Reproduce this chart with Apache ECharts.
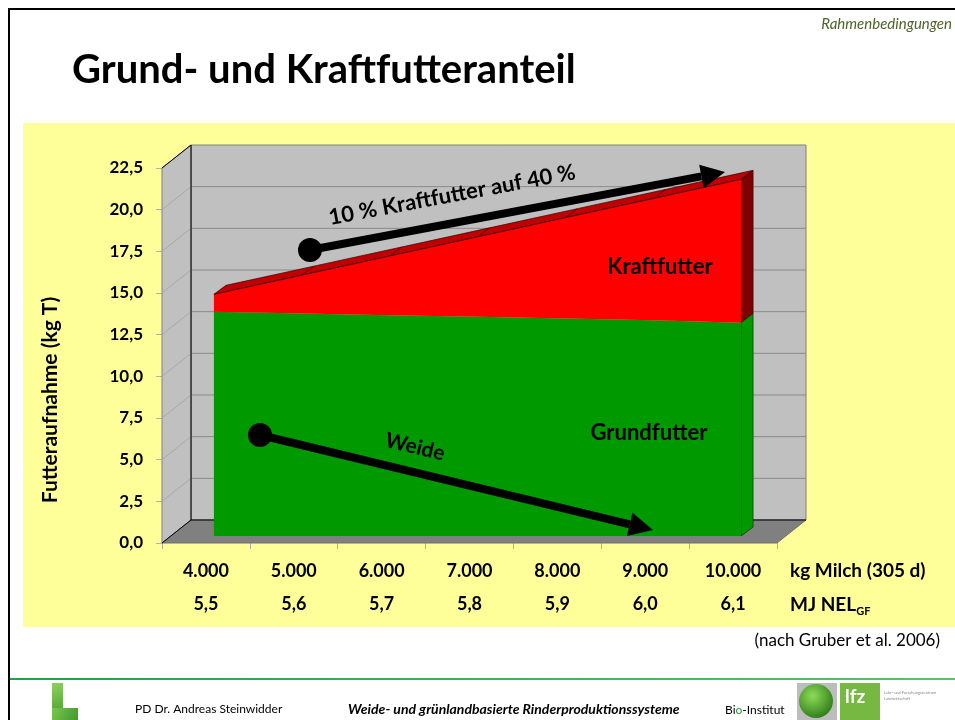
<!DOCTYPE html>
<html>
<head>
<meta charset="utf-8">
<script src="https://cdn.jsdelivr.net/npm/echarts@6/dist/echarts.min.js"></script>
<style>
  html, body { margin: 0; padding: 0; background: #fff; }
  #chart { width: 955px; height: 720px; }
</style>
</head>
<body>
<div id="chart"></div>
<script>
// --- data ---
const milch = ['4.000', '5.000', '6.000', '7.000', '8.000', '9.000', '10.000'];
const nelGF = ['5,5', '5,6', '5,7', '5,8', '5,9', '6,0', '6,1'];
const grundfutter = [13.45, 13.35, 13.25, 13.15, 13.05, 12.95, 12.8];
const kraftfutter = [1.05, 2.3, 3.55, 4.8, 6.05, 7.3, 8.6];
const yMin = 0, yMax = 22.5, yStep = 2.5;

const FONT = 'Lato, "Open Sans", sans-serif';
const WALL_DEPTH = [29, -23];   // pixel offset of the back wall
const AREA_FRONT = [8, -7];     // front face of the area block
const AREA_BACK = [20, -16];    // back face of the area block

const shift = (p, d) => [p[0] + d[0], p[1] + d[1]];

// back wall, side wall, floor and grid lines of the 3D box
function renderWalls(params, api) {
    const D = WALL_DEPTH;
    const bw = api.size([1, 0])[0];
    const c0 = api.coord([0, yMin]);
    const xl = c0[0] - bw / 2;
    const xr = api.coord([milch.length - 1, yMin])[0] + bw / 2;
    const yb = c0[1];
    const yt = api.coord([0, yMax])[1];
    const kids = [];

    kids.push({ type: 'polygon', shape: { points: [[xl + D[0], yt + D[1]], [xr + D[0], yt + D[1]], [xr + D[0], yb + D[1]], [xl + D[0], yb + D[1]]] },
        style: { fill: '#C0C0C0', stroke: '#808080', lineWidth: 1 } });
    kids.push({ type: 'polygon', shape: { points: [[xl, yt], [xl + D[0], yt + D[1]], [xl + D[0], yb + D[1]], [xl, yb]] },
        style: { fill: '#C0C0C0', stroke: '#808080', lineWidth: 1 } });
    kids.push({ type: 'polygon', shape: { points: [[xl, yb], [xl + D[0], yb + D[1]], [xr + D[0], yb + D[1]], [xr, yb]] },
        style: { fill: '#808080', stroke: '#707070', lineWidth: 1 } });

    for (let v = yMin + yStep; v < yMax - 1e-9; v += yStep) {
        const y = api.coord([0, v])[1];
        kids.push({ type: 'line', shape: { x1: xl + D[0], y1: y + D[1], x2: xr + D[0], y2: y + D[1] },
            style: { stroke: '#8A8A8A', lineWidth: 1 } });
        kids.push({ type: 'line', shape: { x1: xl, y1: y, x2: xl + D[0], y2: y + D[1] },
            style: { stroke: '#A8A8A8', lineWidth: 1 } });
    }
    // dark edges
    kids.push({ type: 'polyline', shape: { points: [[xl, yt], [xl + D[0], yt + D[1]], [xl + D[0], yb + D[1]], [xl, yb]] },
        style: { stroke: '#000', lineWidth: 1, fill: null } });
    kids.push({ type: 'line', shape: { x1: xl + D[0], y1: yb + D[1], x2: xr + D[0], y2: yb + D[1] },
        style: { stroke: '#000', lineWidth: 1 } });
    return { type: 'group', children: kids };
}

// stacked 3D area: Grundfutter + Kraftfutter
function renderArea(params, api) {
    const F = AREA_FRONT, B = AREA_BACK;
    const n = milch.length, L = n - 1;
    const base = [], gTop = [], tTop = [];
    for (let i = 0; i < n; i++) {
        base.push(api.coord([i, 0]));
        gTop.push(api.coord([i, grundfutter[i]]));
        tTop.push(api.coord([i, grundfutter[i] + kraftfutter[i]]));
    }
    const kids = [];
    const strip = tTop.map(p => shift(p, F)).concat(tTop.slice().reverse().map(p => shift(p, B)));
    kids.push({ type: 'polygon', shape: { points: strip }, style: { fill: '#C00000', stroke: '#3A0000', lineWidth: 0.7 } });
    for (let i = 1; i < L; i++) {
        const a = shift(tTop[i], F), b = shift(tTop[i], B);
        kids.push({ type: 'line', shape: { x1: a[0], y1: a[1], x2: b[0], y2: b[1] }, style: { stroke: '#3A0000', lineWidth: 0.7 } });
    }
    kids.push({ type: 'polygon', shape: { points: [shift(tTop[L], F), shift(tTop[L], B), shift(gTop[L], B), shift(gTop[L], F)] },
        style: { fill: '#7F0000', stroke: '#2A0000', lineWidth: 0.7 } });
    kids.push({ type: 'polygon', shape: { points: [shift(gTop[L], F), shift(gTop[L], B), shift(base[L], B), shift(base[L], F)] },
        style: { fill: '#009900', stroke: '#003300', lineWidth: 0.7 } });

    const green = [shift(base[0], F)].concat(gTop.map(p => shift(p, F)), [shift(base[L], F)]);
    kids.push({ type: 'polygon', shape: { points: green }, style: { fill: '#009900' } });
    const red = tTop.map(p => shift(p, F)).concat(gTop.slice().reverse().map(p => shift(p, F)));
    kids.push({ type: 'polygon', shape: { points: red }, style: { fill: '#FF0000' } });
    kids.push({ type: 'polyline', shape: { points: tTop.map(p => shift(p, F)) }, style: { stroke: '#3A0000', lineWidth: 0.8, fill: null } });
    return { type: 'group', children: kids };
}

// annotation arrow: dot at the start, head at the end
function arrow(x1, y1, x2, y2) {
    const ang = Math.atan2(y2 - y1, x2 - x1);
    const len = 24, half = 12;
    const bx = x2 - len * Math.cos(ang), by = y2 - len * Math.sin(ang);
    const nx = -Math.sin(ang) * half, ny = Math.cos(ang) * half;
    return [
        { type: 'line', z: 20, shape: { x1: x1, y1: y1, x2: bx, y2: by }, style: { stroke: '#000', lineWidth: 8 } },
        { type: 'circle', z: 20, shape: { cx: x1, cy: y1, r: 12 }, style: { fill: '#000' } },
        { type: 'polygon', z: 20, shape: { points: [[x2, y2], [bx + nx, by + ny], [bx - nx, by - ny]] }, style: { fill: '#000' } }
    ];
}

const graphics = [
    { type: 'rect', z: -10, silent: true, shape: { x: 23, y: 123, width: 932, height: 504 }, style: { fill: '#FFFF99' } },
    { type: 'rect', shape: { x: 8, y: 8, width: 947, height: 2 }, style: { fill: '#000' } },
    { type: 'rect', shape: { x: 8, y: 8, width: 2, height: 712 }, style: { fill: '#000' } },
    { type: 'text', x: 952, y: 24, style: { text: 'Rahmenbedingungen', font: 'italic 15px ' + FONT, fill: '#4F6228', align: 'right', verticalAlign: 'middle' } },
    { type: 'text', x: 72, y: 70, style: { text: 'Grund- und Kraftfutteranteil', font: 'bold 40px ' + FONT, fill: '#000', align: 'left', verticalAlign: 'middle' } },
    { type: 'text', x: 50, y: 400, rotation: Math.PI / 2, style: { text: 'Futteraufnahme (kg T)', font: 'bold 21px ' + FONT, fill: '#000', align: 'center', verticalAlign: 'middle' } },
    { type: 'text', x: 790, y: 571, style: { text: 'kg Milch (305 d)', font: 'bold 19px ' + FONT, fill: '#000', align: 'left', verticalAlign: 'middle' } },
    { type: 'text', x: 790, y: 605, style: { text: '{n|MJ NEL}{s|GF}', align: 'left', verticalAlign: 'middle',
        rich: { n: { font: 'bold 19px ' + FONT, fill: '#000', lineHeight: 24 }, s: { font: 'bold 11px ' + FONT, fill: '#000', lineHeight: 11, verticalAlign: 'bottom' } } } },
    { type: 'text', z: 20, x: 660, y: 267, style: { text: 'Kraftfutter', font: 'bold 22px ' + FONT, fill: '#000', align: 'center', verticalAlign: 'middle' } },
    { type: 'text', z: 20, x: 649, y: 433, style: { text: 'Grundfutter', font: 'bold 22px ' + FONT, fill: '#000', align: 'center', verticalAlign: 'middle' } },
    { type: 'text', z: 20, x: 452, y: 195, rotation: 0.185, style: { text: '10 % Kraftfutter auf 40 %', font: 'bold 22px ' + FONT, fill: '#000', align: 'center', verticalAlign: 'middle' } },
    { type: 'text', z: 20, x: 415, y: 447, rotation: -0.237, style: { text: 'Weide', font: 'bold 21px ' + FONT, fill: '#000', align: 'center', verticalAlign: 'middle' } },
    { type: 'text', x: 940, y: 641, style: { text: '(nach Gruber et al. 2006)', font: '17px ' + FONT, fill: '#000', align: 'right', verticalAlign: 'middle' } },
    // footer
    { type: 'rect', shape: { x: 10, y: 678, width: 945, height: 2 },
        style: { fill: new echarts.graphic.LinearGradient(0, 0, 1, 0, [{ offset: 0, color: '#20A050' }, { offset: 1, color: '#5CC070' }]) } },
    { type: 'rect', shape: { x: 52, y: 683, width: 11, height: 37 }, style: { fill: new echarts.graphic.LinearGradient(0, 0, 1, 1, [{ offset: 0, color: '#8FD060' }, { offset: 1, color: '#3E9A2A' }]) } },
    { type: 'rect', shape: { x: 52, y: 708, width: 26, height: 12 }, style: { fill: new echarts.graphic.LinearGradient(0, 0, 1, 1, [{ offset: 0, color: '#7CC650' }, { offset: 1, color: '#3E9A2A' }]) } },
    { type: 'text', x: 135, y: 709, style: { text: 'PD Dr. Andreas Steinwidder', font: '12px ' + FONT, fill: '#000', verticalAlign: 'middle' } },
    { type: 'text', x: 348, y: 709, style: { text: 'Weide- und grünlandbasierte Rinderproduktionssysteme', font: 'italic bold 14px ' + FONT, fill: '#000', verticalAlign: 'middle' } },
    { type: 'text', x: 725, y: 710, style: { text: '{a|Bi}{b|o}{a|-Institut}', verticalAlign: 'middle',
        rich: { a: { font: '12px ' + FONT, fill: '#000' }, b: { font: '12px ' + FONT, fill: '#22A038' } } } },
    { type: 'rect', shape: { x: 797, y: 683, width: 40, height: 37 }, style: { fill: '#BDBDBD' } },
    { type: 'circle', shape: { cx: 816, cy: 701, r: 17 },
        style: { fill: new echarts.graphic.RadialGradient(0.4, 0.35, 0.7, [{ offset: 0, color: '#8EDC5A' }, { offset: 1, color: '#2C7A16' }]) } },
    { type: 'rect', shape: { x: 840, y: 683, width: 40, height: 37 }, style: { fill: '#77B843' } },
    { type: 'text', x: 845, y: 697, style: { text: 'lfz', font: 'bold 19px ' + FONT, fill: '#fff', verticalAlign: 'middle' } },
    { type: 'text', x: 884, y: 693, style: { text: 'Lehr- und Forschungszentrum', font: '4px ' + FONT, fill: '#888', verticalAlign: 'middle' } },
    { type: 'text', x: 884, y: 699, style: { text: 'Landwirtschaft', font: '4px ' + FONT, fill: '#888', verticalAlign: 'middle' } }
].concat(arrow(310, 250, 725, 172), arrow(260, 435, 653, 530));

const chart = echarts.init(document.getElementById('chart'));
chart.setOption({
    backgroundColor: '#fff',
    animation: false,
    grid: { left: 162, right: 178, top: 168, bottom: 177, containLabel: false, outerBoundsMode: 'none' },
    xAxis: {
        type: 'category',
        data: milch,
        boundaryGap: true,
        axisLine: { show: false },
        axisTick: { show: true, length: 6, lineStyle: { color: '#B0B0B0' } },
        axisLabel: {
            margin: 12,
            formatter: (v, i) => '{a|' + v + '}\n{a|' + nelGF[i] + '}',
            rich: { a: { fontFamily: FONT, fontWeight: 'bold', fontSize: 18, color: '#000', lineHeight: 33 } }
        }
    },
    yAxis: {
        type: 'value',
        min: yMin, max: yMax, interval: yStep,
        axisLine: { show: false },
        axisTick: { show: true, length: 6, lineStyle: { color: '#B0B0B0' } },
        splitLine: { show: false },
        axisLabel: {
            margin: 19,
            fontFamily: FONT, fontWeight: 'bold', fontSize: 17, color: '#000',
            formatter: v => v.toFixed(1).replace('.', ',')
        }
    },
    graphic: graphics,
    series: [
        { type: 'custom', name: 'Wand', z: 1, silent: true, renderItem: renderWalls, data: [[0, 0]] },
        { type: 'custom', name: 'Futteraufnahme', z: 3, silent: true, renderItem: renderArea, data: [[0, 0]] }
    ]
});
</script>
</body>
</html>
